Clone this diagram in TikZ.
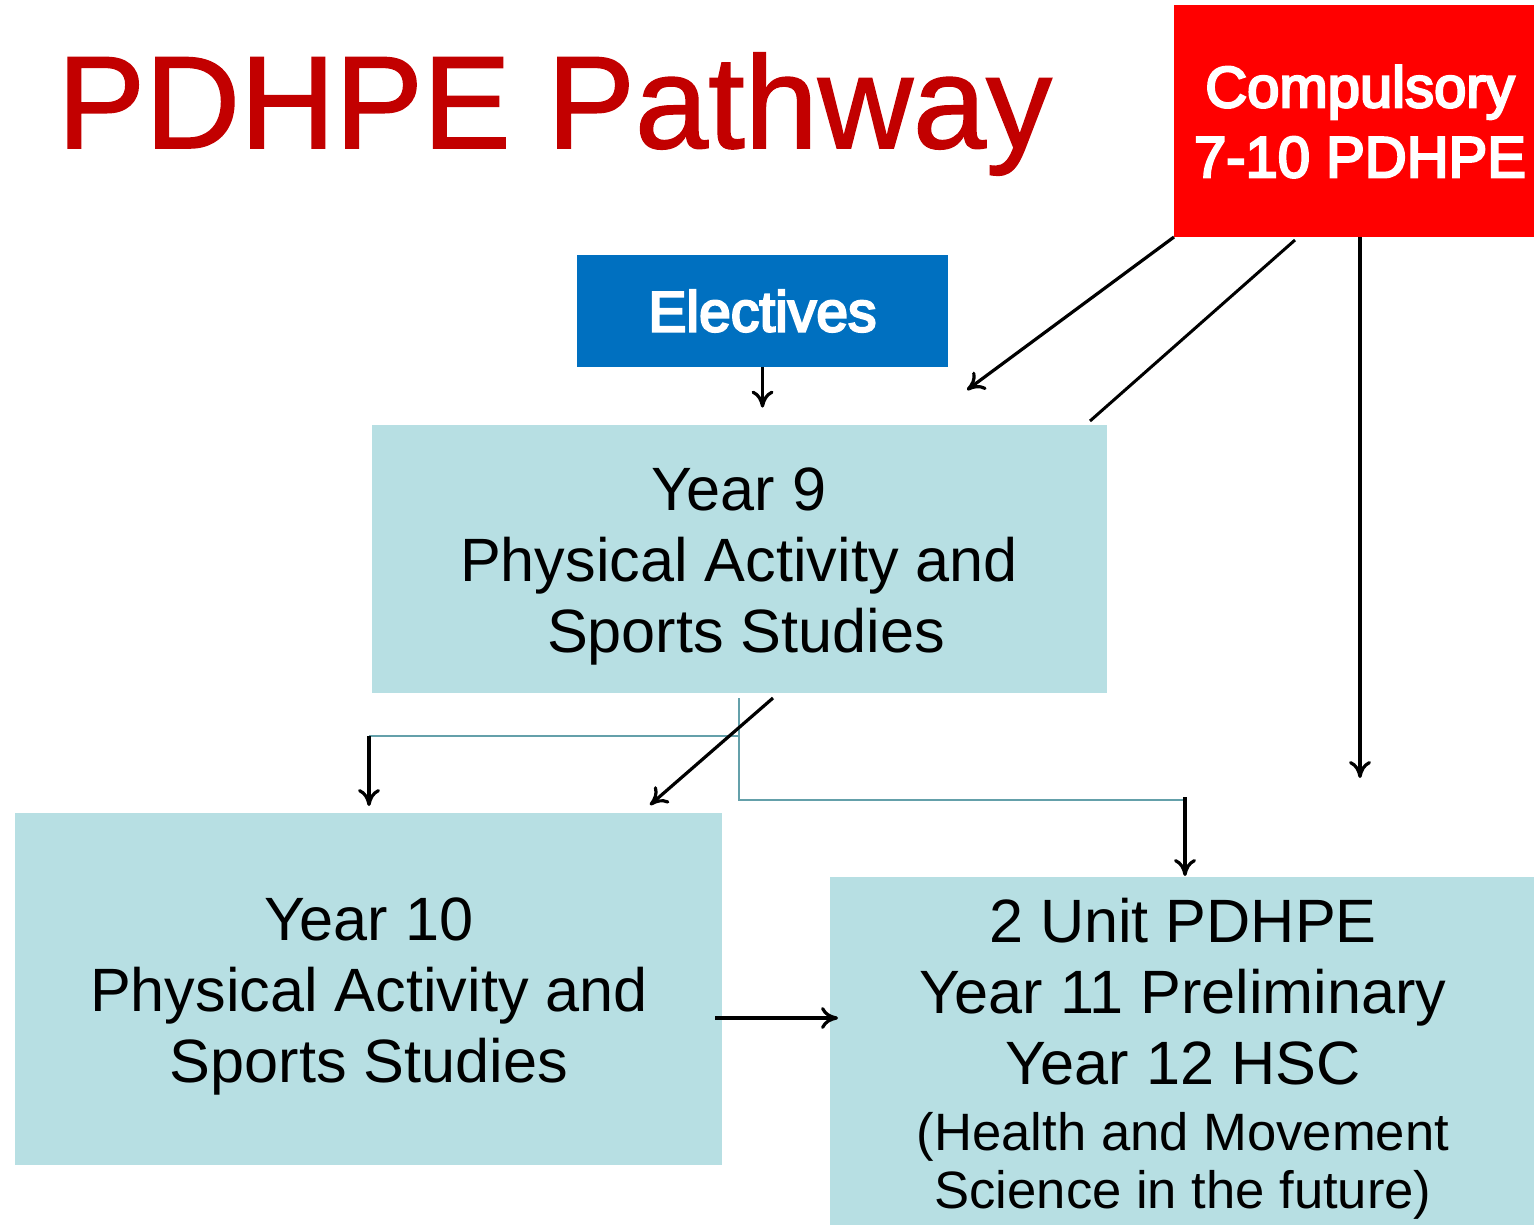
\documentclass[tikz,border=0pt]{standalone}
\usepackage{fontspec}
\setmainfont{Liberation Sans}
\newfontfamily\heavyfont[FakeBold=4]{Liberation Sans}
\newfontfamily\headfont[FakeBold=1.2]{Liberation Sans}
\usetikzlibrary{arrows.meta}
\definecolor{titlered}{RGB}{194,0,0}
\definecolor{boxred}{RGB}{255,0,0}
\definecolor{boxblue}{RGB}{0,112,192}
\definecolor{boxcyan}{RGB}{183,223,227}
\definecolor{treeline}{RGB}{100,160,170}
\tikzset{
  box/.style={rectangle, inner sep=0pt, draw=none},
  cyanbox/.style={box, fill=boxcyan},
  bodytext/.style={align=center, inner sep=0pt, font=\fontsize{30.6}{35.5}\selectfont},
  smalltext/.style={align=center, inner sep=0pt, font=\fontsize{26.3}{29}\selectfont},
  whitetext/.style={align=center, inner sep=0pt, text=white, font=\fontsize{29}{35}\heavyfont},
  arr/.style={draw=black, line width=1.6pt, -{To[length=8.5pt,width=11pt]}},
  plain/.style={draw=black, line width=1.5pt},
  tree/.style={draw=treeline, line width=1.1pt}
}
\begin{document}
\begin{tikzpicture}[x=0.5pt, y=-0.5pt]
\useasboundingbox (0,0) rectangle (1534,1224);
\fill[white] (0,0) rectangle (1534,1224);

% heading
\node[anchor=base west, inner sep=0pt, text=titlered, font=\fontsize{65.8}{70}\headfont]
  (title) at (57,148) {PDHPE Pathway};

% boxes
\node[box, fill=boxred, minimum width=186pt, minimum height=116pt] (comp) at (1360,121) {};
\node[whitetext] (comptxt) at (1360,121.5) {Compulsory\\7-10 PDHPE};

\node[box, fill=boxblue, minimum width=185.5pt, minimum height=56pt, text=white,
      font=\fontsize{28.5}{34}\heavyfont] (elec) at (762.5,311) {Electives};

\node[cyanbox, minimum width=367.5pt, minimum height=134pt] (y9) at (739.5,559) {};
\node[bodytext] (y9txt) at (739,566) {Year 9\\Physical Activity and\\\hspace*{7pt}Sports Studies};

\node[cyanbox, minimum width=353.5pt, minimum height=176pt] (y10) at (368.5,989) {};
\node[bodytext] (y10txt) at (369,996) {Year 10\\Physical Activity and\\Sports Studies};

\node[cyanbox, minimum width=353pt, minimum height=181pt] (unit) at (1183,1058) {};
\node[bodytext] (unittxt) at (1183,992) {2 Unit PDHPE\\Year 11 Preliminary\\Year 12 HSC};
\node[smalltext] (unitsub) at (1183,1166) {(Health and Movement\\Science in the future)};

% free ends and bends of the connectors
\coordinate (compA) at (1174,237);
\coordinate (endA) at (967,390);
\coordinate (compB) at (1295,240);
\coordinate (endB) at (1090,421);
\coordinate (compC) at (1360,237);
\coordinate (endC) at (1360,778);
\coordinate (trunkTop) at (739,698);
\coordinate (trunkBend) at (739,800);
\coordinate (branchL) at (739,736);
\coordinate (leftEnd) at (369,736);
\coordinate (leftTip) at (369,806);
\coordinate (rightEnd) at (1185,800);
\coordinate (rightStart) at (1185,797);
\coordinate (rightTip) at (1185,876);
\coordinate (diagStart) at (773,698);
\coordinate (diagEnd) at (650,805);
\coordinate (hStart) at (715,1018);
\coordinate (hEnd) at (838,1018);

% connectors from the top boxes
\draw[arr, shorten >=8.5pt] (elec.south) -- (elec.south |- y9.north);
\draw[arr] (compA) -- (endA);
\draw[plain] (compB) -- (endB);
\draw[arr] (compC) -- (endC);

% branching below Year 9
\draw[tree] (trunkTop) -- (trunkBend) -- (rightEnd);
\draw[tree] (branchL) -- (leftEnd);
\draw[arr] (leftEnd) -- (leftTip);
\draw[arr] (rightStart) -- (rightTip);
\draw[arr] (diagStart) -- (diagEnd);

% Year 10 to the senior course
\draw[arr] (hStart) -- (hEnd);
\end{tikzpicture}
\end{document}
